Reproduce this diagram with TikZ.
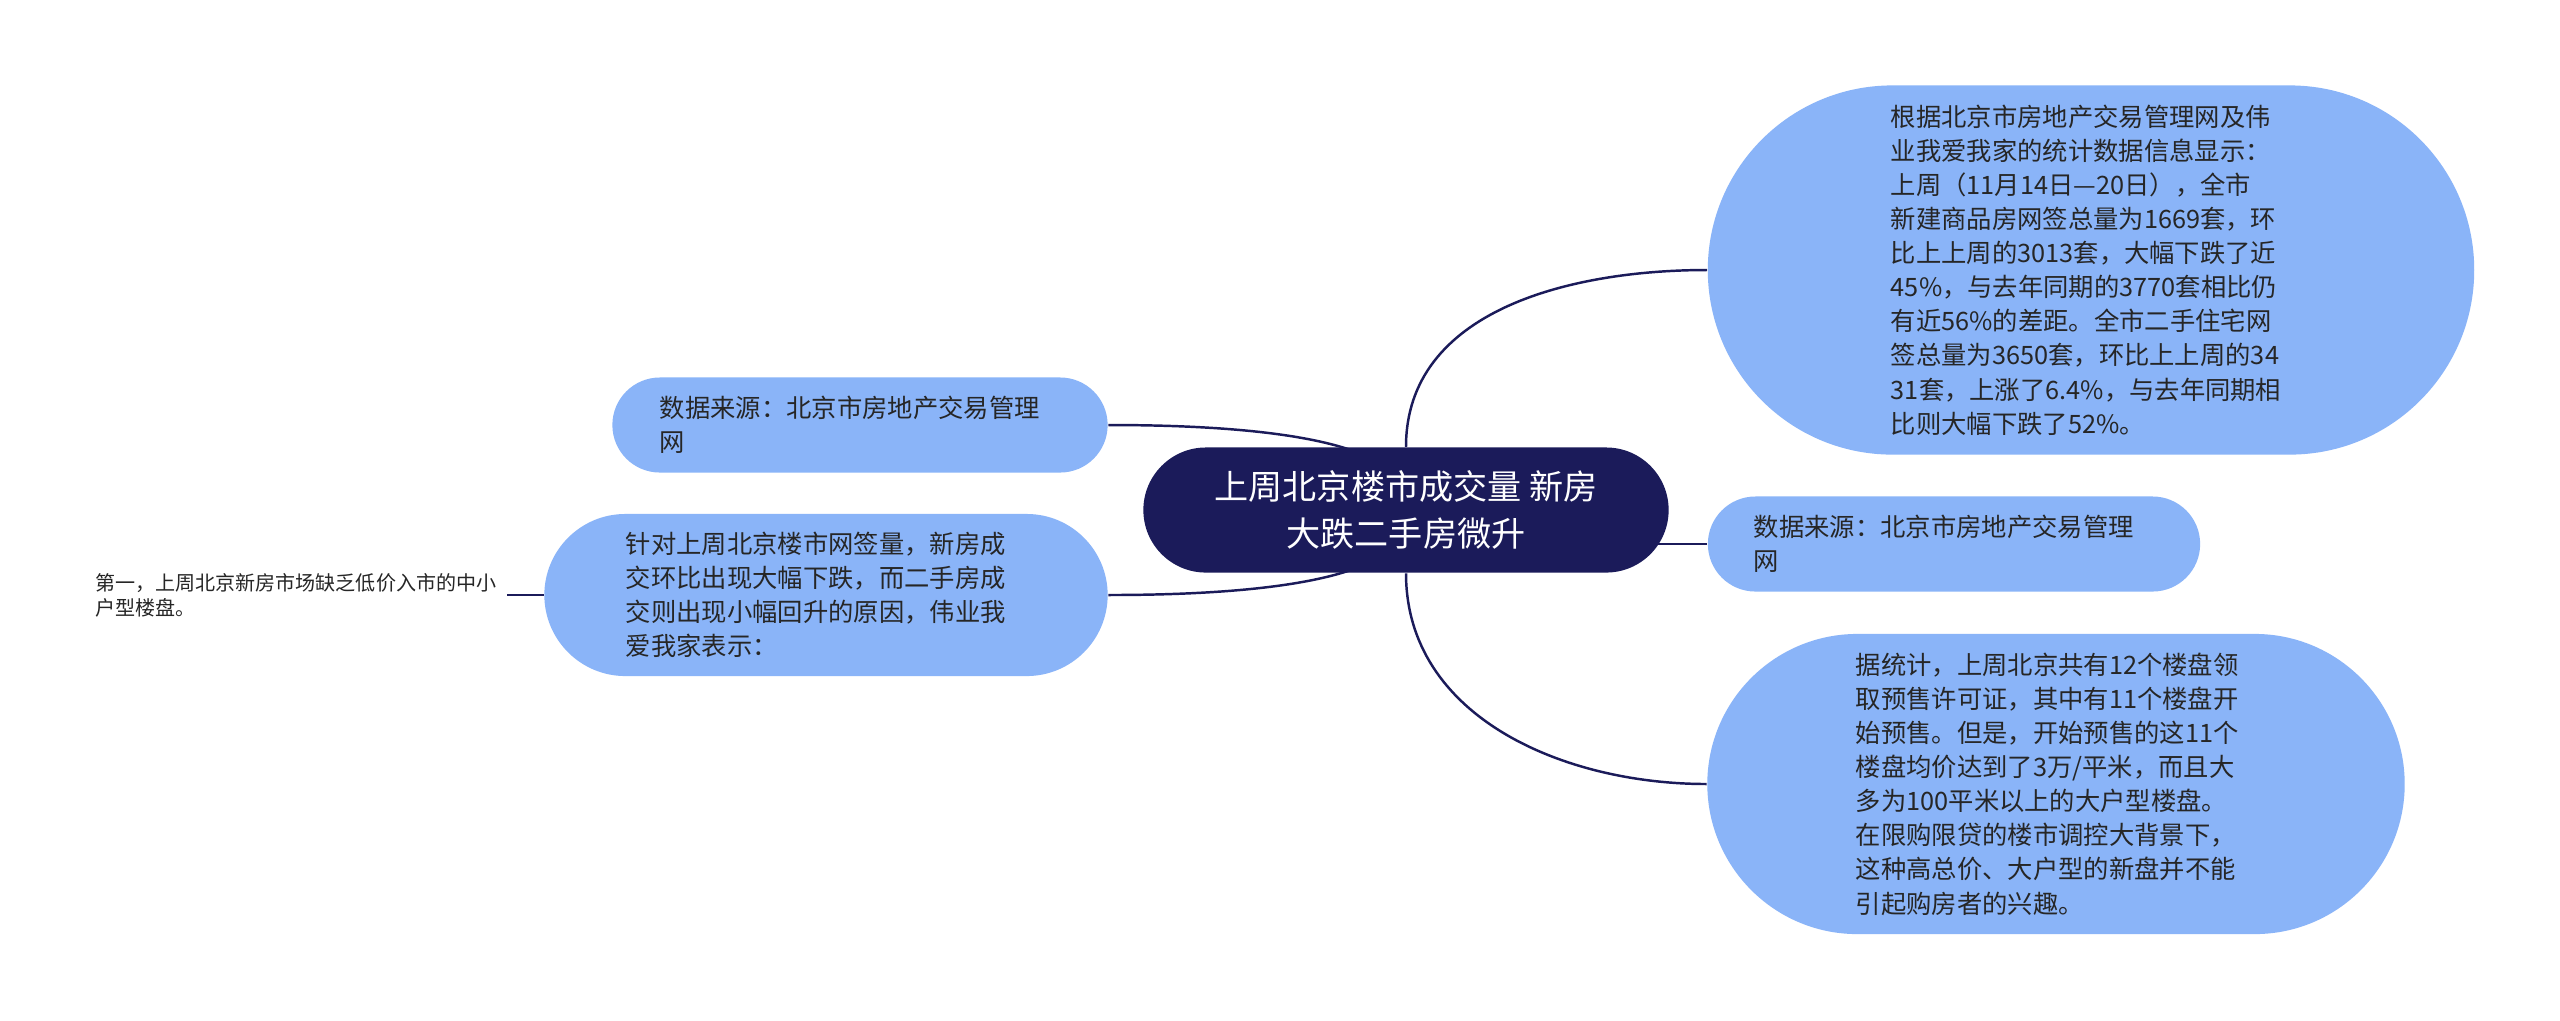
\documentclass[tikz,border=0pt]{standalone}
\usepackage{fontspec}
\setmainfont{Noto Sans CJK SC}
\usetikzlibrary{shapes.misc,backgrounds}
\definecolor{navy}{RGB}{27,27,90}
\definecolor{topicblue}{RGB}{138,180,248}

\begin{document}
\begin{tikzpicture}[x=0.01cm, y=0.01cm,
  centre/.style={rounded rectangle, fill=navy, text=white, align=center,
    font={\fontsize{9.7pt}{13.4pt}\selectfont}, inner xsep=0.07cm, inner ysep=0pt,
    minimum width=5.39cm, minimum height=1.25cm},
  topic/.style={rounded rectangle, fill=topicblue, text=black!85, text width=4cm,
    align=left, font={\fontsize{7.2pt}{9.7pt}\selectfont}, inner xsep=0pt, inner ysep=0.17cm},
  leaf/.style={text=black!85, align=left, font={\fontsize{5.7pt}{7.1pt}\selectfont},
    inner xsep=0.1cm},
  link/.style={draw=navy, line width=0.7pt}]
  \useasboundingbox (0,0) rectangle (2560,-1020);
  % main topic
  \node[centre] (root) at (1406,-510) {上周北京楼市成交量 新房\\大跌二手房微升};
  % right side
  \node[topic, minimum width=7.66cm, minimum height=3.69cm] (stats) at (2091,-270) {根据北京市房地产交易管理网及伟\\业我爱我家的统计数据信息显示：\\上周（11月14日—20日），全市\\新建商品房网签总量为1669套，环\\比上上周的3013套，大幅下跌了近\\45\%，与去年同期的3770套相比仍\\有近56\%的差距。全市二手住宅网\\签总量为3650套，环比上上周的34\\31套，上涨了6.4\%，与去年同期相\\比则大幅下跌了52\%。};
  \node[topic, minimum width=4.92cm, minimum height=0.95cm] (srcR) at (1954,-544) {数据来源：北京市房地产交易管理\\网};
  \node[topic, minimum width=6.97cm, minimum height=3.0cm] (presale) at (2056,-784) {据统计，上周北京共有12个楼盘领\\取预售许可证，其中有11个楼盘开\\始预售。但是，开始预售的这11个\\楼盘均价达到了3万/平米，而且大\\多为100平米以上的大户型楼盘。\\在限购限贷的楼市调控大背景下，\\这种高总价、大户型的新盘并不能\\引起购房者的兴趣。};
  % left side
  \node[topic, minimum width=4.95cm, minimum height=0.95cm] (srcL) at (860,-425) {数据来源：北京市房地产交易管理\\网};
  \node[topic, minimum width=5.63cm, minimum height=1.62cm] (reason) at (826,-595) {针对上周北京楼市网签量，新房成\\交环比出现大幅下跌，而二手房成\\交则出现小幅回升的原因，伟业我\\爱我家表示：};
  \node[leaf, anchor=east] (first) at (507,-595) {第一，上周北京新房市场缺乏低价入市的中小\\户型楼盘。};
  % connectors under the topics
  \begin{scope}[on background layer]
    \fill[white] (0,0) rectangle (2560,-1020);
    \draw[link] (root.north) to[out=90,in=180] (stats.west);
    \draw[link] (srcR.west) -- (srcR.west -| root.center);
    \draw[link] (root.south) to[out=-90,in=180] (presale.west);
    \draw[link] (srcL.east) .. controls +(150,0) and +(14,70) .. (root.center);
    \draw[link] (reason.east) .. controls +(150,0) and +(14,-70) .. (root.center);
    \draw[link] (first.east) -- (reason.west);
  \end{scope}
\end{tikzpicture}
\end{document}
